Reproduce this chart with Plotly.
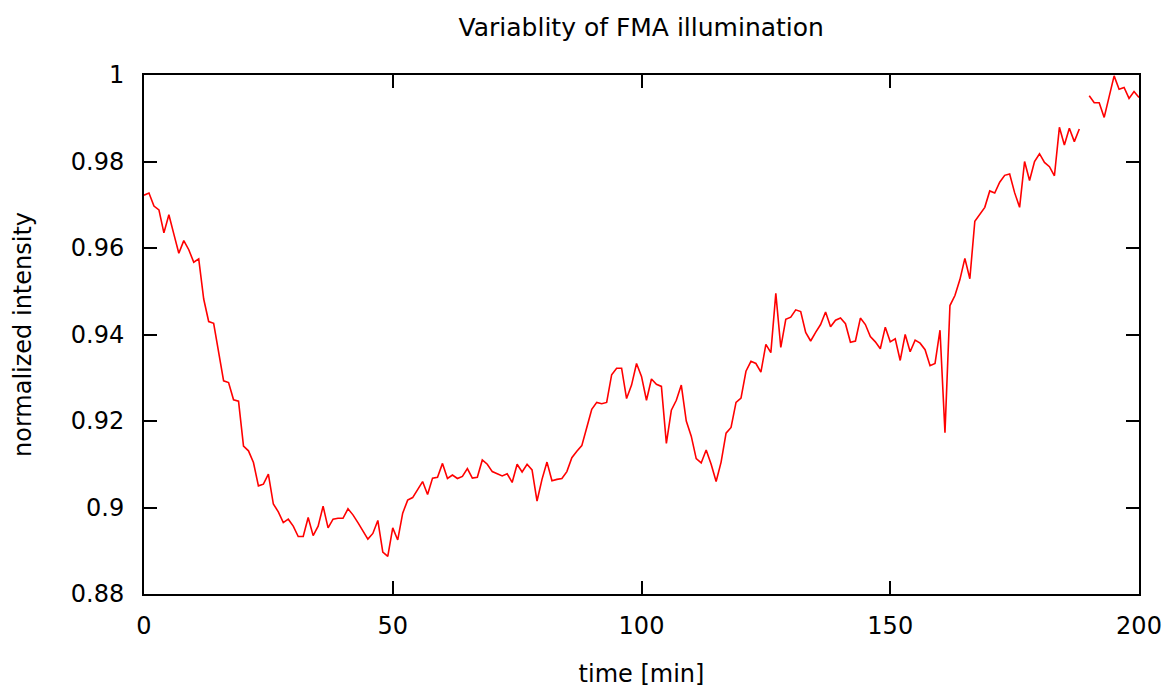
import plotly.graph_objects as go

time_min = list(range(0, 201))

intensity = [
    0.9722, 0.9727, 0.9697, 0.9688, 0.9635, 0.9677, 0.9632, 0.9588, 0.9617, 0.9596,
    0.9567, 0.9575, 0.9482, 0.9430, 0.9426, 0.9358, 0.9293, 0.9289, 0.9249, 0.9246,
    0.9142, 0.9131, 0.9104, 0.9050, 0.9054, 0.9077, 0.9008, 0.8990, 0.8965, 0.8973,
    0.8957, 0.8933, 0.8933, 0.8977, 0.8935, 0.8957, 0.9003, 0.8953, 0.8973, 0.8975,
    0.8975, 0.8997, 0.8983, 0.8965, 0.8945, 0.8927, 0.8940, 0.8970, 0.8897, 0.8887,
    0.8953, 0.8925, 0.8987, 0.9017, 0.9023, 0.9043, 0.9060, 0.9030, 0.9068, 0.9070,
    0.9102, 0.9067, 0.9075, 0.9067, 0.9072, 0.9090, 0.9068, 0.9070, 0.9110, 0.9100,
    0.9083, 0.9078, 0.9073, 0.9078, 0.9058, 0.9100, 0.9082, 0.9100, 0.9087, 0.9015,
    0.9065, 0.9105, 0.9062, 0.9065, 0.9067, 0.9083, 0.9115, 0.9130, 0.9143, 0.9185,
    0.9227, 0.9243, 0.9240, 0.9243, 0.9307, 0.9322, 0.9322, 0.9252, 0.9283, 0.9333,
    0.9303, 0.9248, 0.9297, 0.9285, 0.9280, 0.9148, 0.9225, 0.9248, 0.9283, 0.9200,
    0.9165, 0.9113, 0.9103, 0.9133, 0.9100, 0.9060, 0.9105, 0.9172, 0.9185, 0.9243,
    0.9253, 0.9315, 0.9338, 0.9333, 0.9313, 0.9377, 0.9358, 0.9495, 0.9370, 0.9435,
    0.9440, 0.9457, 0.9453, 0.9405, 0.9385, 0.9405, 0.9423, 0.9452, 0.9418, 0.9433,
    0.9438, 0.9425, 0.9382, 0.9385, 0.9438, 0.9423, 0.9395, 0.9383, 0.9367, 0.9417,
    0.9383, 0.9390, 0.9340, 0.9400, 0.9360, 0.9387, 0.9380, 0.9365, 0.9328, 0.9333,
    0.9410, 0.9173, 0.9467, 0.9490, 0.9527, 0.9576, 0.9529, 0.9662, 0.9677, 0.9694,
    0.9732, 0.9727, 0.9752, 0.9768, 0.9771, 0.9728, 0.9694, 0.9800, 0.9756, 0.9800,
    0.9818, 0.9798, 0.9788, 0.9767, 0.9879, 0.9838, 0.9877, 0.9846, 0.9875, None,
    0.9952, 0.9936, 0.9936, 0.9902, 0.9950, 0.9998, 0.9967, 0.9971, 0.9946, 0.9962,
    0.9948,
]

x_ticks = [0, 50, 100, 150, 200]
y_ticks = [0.88, 0.90, 0.92, 0.94, 0.96, 0.98, 1.00]
y_tick_text = ["0.88", "0.9", "0.92", "0.94", "0.96", "0.98", "1"]

FONT = "DejaVu Sans"

fig = go.Figure()
fig.add_trace(go.Scatter(
    x=time_min, y=intensity, mode="lines",
    line=dict(color="#ff0000", width=1.6),
    connectgaps=False, showlegend=False,
))

axis_common = dict(
    showline=True, linecolor="black", linewidth=2, mirror="ticks",
    ticks="inside", ticklen=13, tickwidth=1.5, tickcolor="black",
    showgrid=False, zeroline=False, automargin=False,
    tickfont=dict(family=FONT, size=24, color="black"),
)

# page body has an 8px margin, so the figure is sized/offset to land the plot box correctly
fig.update_layout(
    width=1163, height=684,
    margin=dict(l=136, r=32, t=67, b=98),
    paper_bgcolor="white", plot_bgcolor="white",
    font=dict(family=FONT, color="black"),
    title=dict(text="Variablity of FMA illumination", x=0.5445, xanchor="center",
               y=0.972, yanchor="middle",
               font=dict(family=FONT, size=25, color="black")),
    xaxis=dict(range=[0, 200], tickvals=x_ticks, ticklabelstandoff=9,
               title=dict(text="time [min]", font=dict(family=FONT, size=24), standoff=26),
               **axis_common),
    yaxis=dict(range=[0.88, 1.0], tickvals=y_ticks, ticktext=y_tick_text, ticklabelstandoff=13,
               title=dict(text="normalized intensity", font=dict(family=FONT, size=24), standoff=32),
               **axis_common),
)

fig.write_html("out.html")
